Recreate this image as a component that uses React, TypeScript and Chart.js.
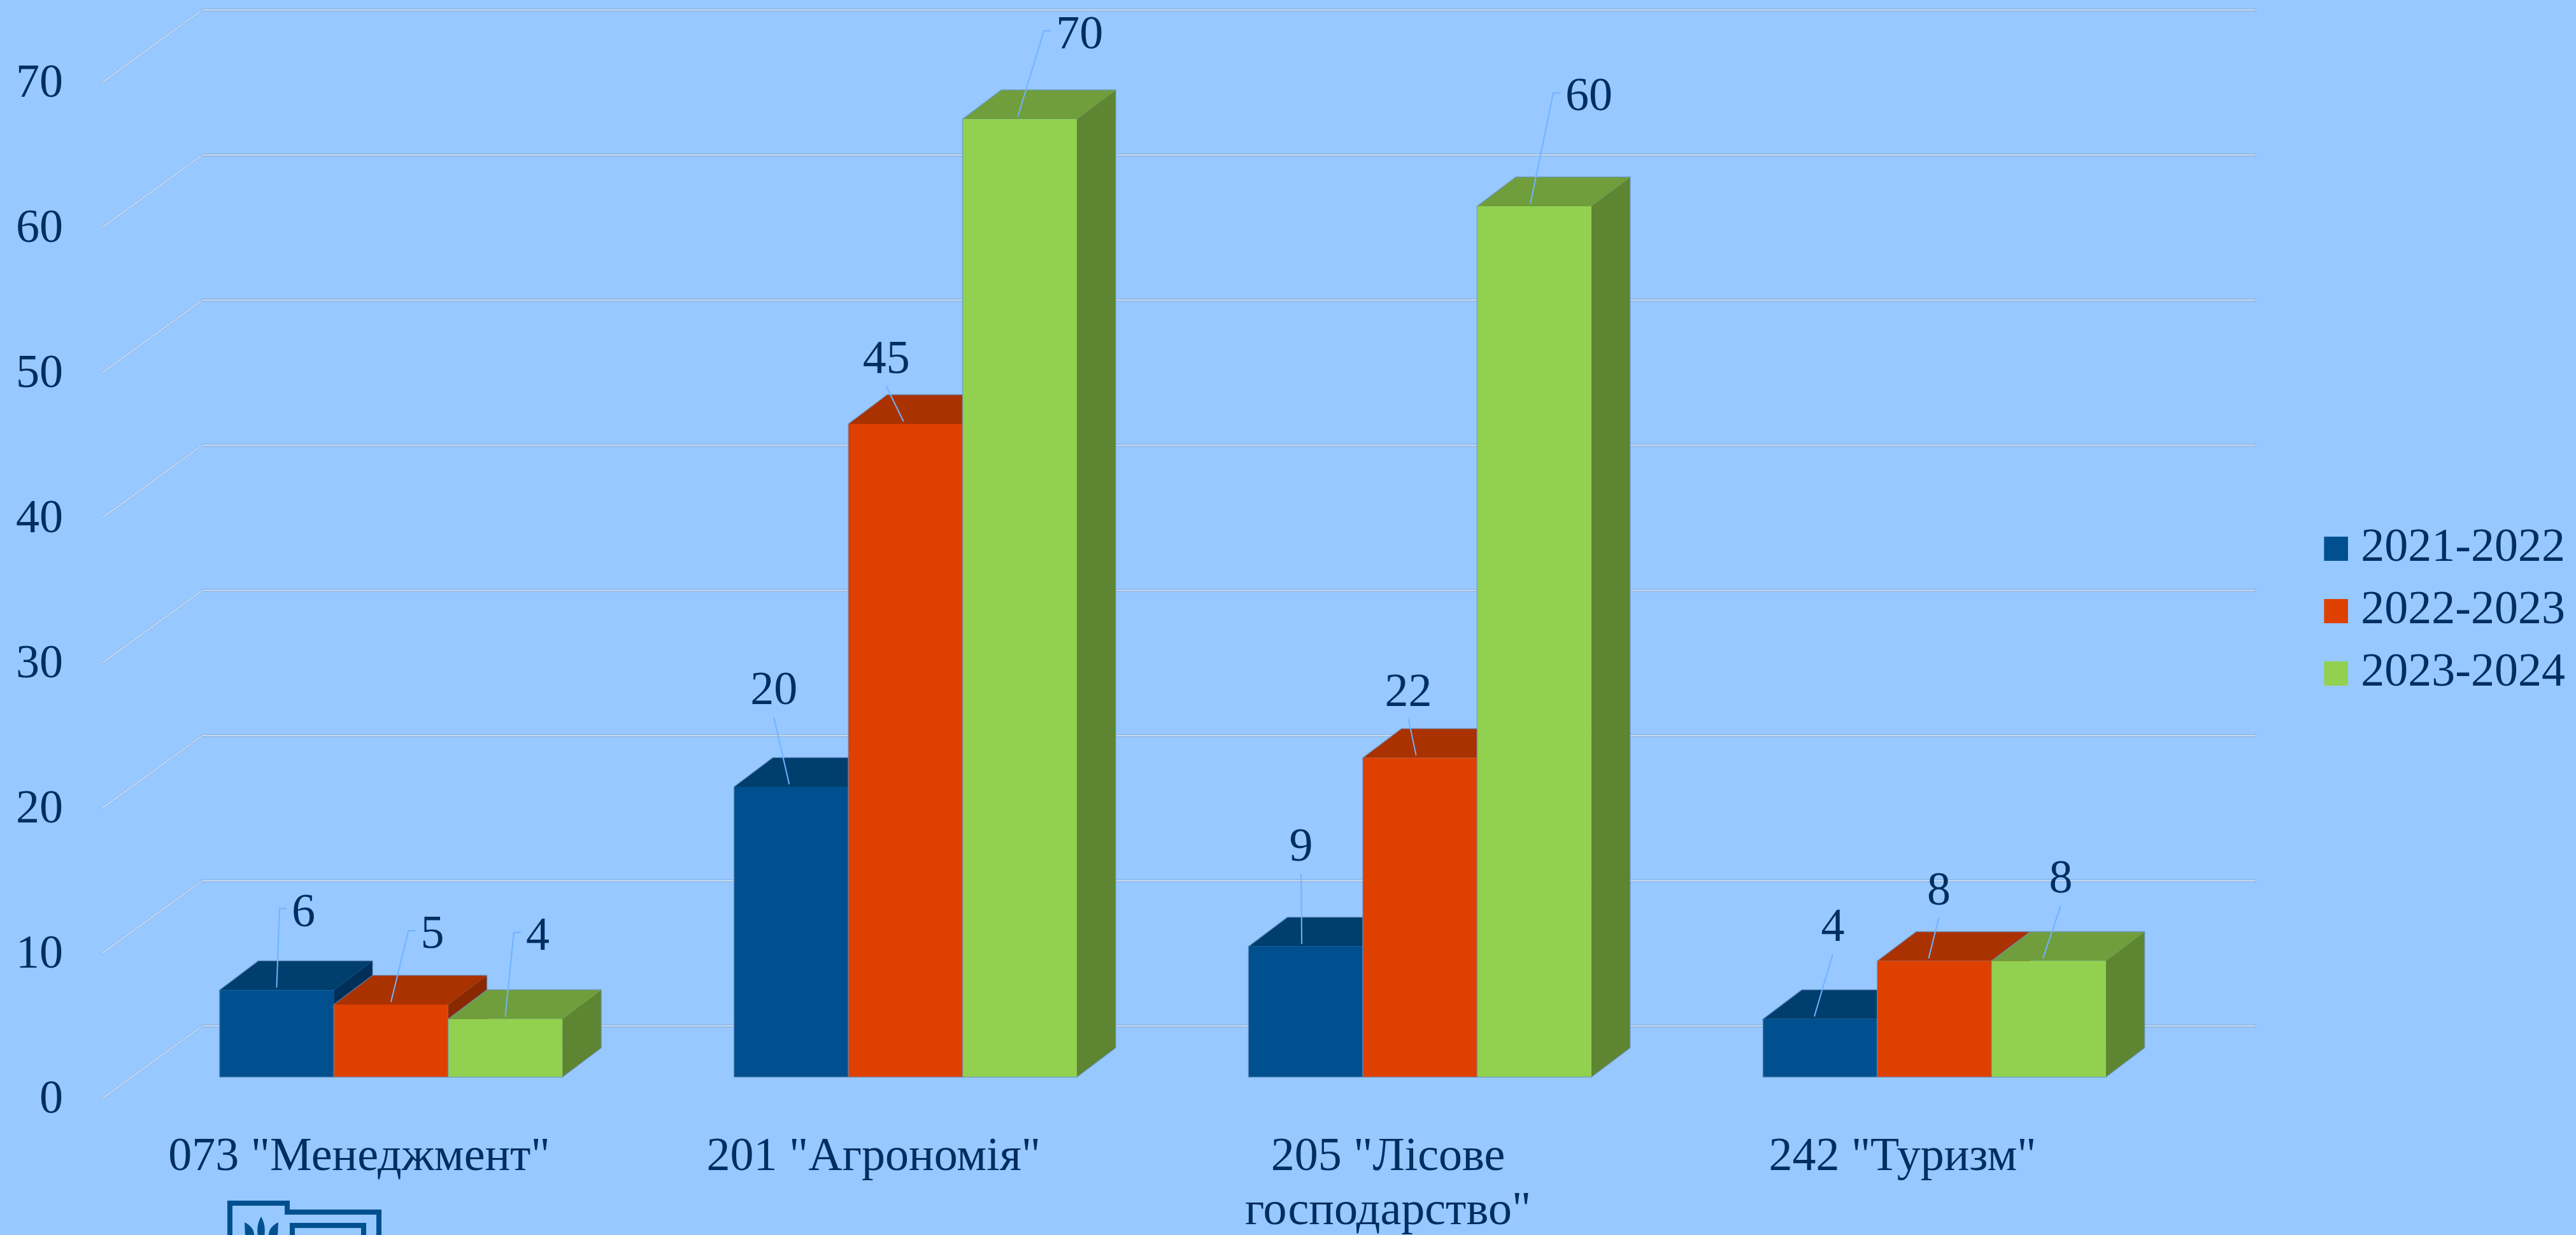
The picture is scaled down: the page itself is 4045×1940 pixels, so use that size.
import React, { useEffect, useRef } from "react";
import { Chart, registerables } from "chart.js";

Chart.register(...registerables);

// ---- data ----
const categories = [
  '073 "Менеджмент"',
  '201 "Агрономія"',
  ['205 "Лісове', 'господарство"'],
  '242 "Туризм"',
];
const seasons = ["2021-2022", "2022-2023", "2023-2024"];
const barHeights2021 = [6, 20, 9, 4];
const barHeights2022 = [5, 45, 22, 8];
const barHeights2023 = [4, 66, 60, 8]; // the 70 column is drawn only about 66 tall
const printedLabels2021 = ["6", "20", "9", "4"];
const printedLabels2022 = ["5", "45", "22", "8"];
const printedLabels2023 = ["4", "70", "60", "8"];
const yTickValues = [0, 10, 20, 30, 40, 50, 60, 70];

// ---- styles ----
const BG = "#97c8ff";
const INK = "#002e60";
const FONT = "Liberation Serif";
const FONT_PX = 74;
const FRONT = ["#00508f", "#de4000", "#91d14f"];
const TOP = ["#003e6e", "#a93200", "#709e3c"];
const SIDE = ["#002f5a", "#8a2900", "#5e8531"];
const LEADER = "#6fb3ff";
const EDGE = "rgba(105,145,195,0.7)";
const DEPTH_X = 61;
const DEPTH_Y = 46;
const WALL_BACK = { x: 318, dy: -80.6 };
const WALL_FRONT = { x: 161, dy: 33 };
const WALL_RIGHT = 3541;
const LEGEND_SHIFT = -58;
const TEXT_DROP = 5;
// label offset from the top centre of each column, one row per season
const labelShiftX = [[42, -27, -7, 20], [65, -30, -18, 7], [51, 94, 86, 19]];
const labelShiftY = [[-125, -154, -159, -147], [-113, -104, -106, -113], [-133, -136, -175, -132]];

const printedLabels = [printedLabels2021, printedLabels2022, printedLabels2023];

function poly(ctx: CanvasRenderingContext2D, pts: number[][], fill: string) {
  ctx.beginPath();
  pts.forEach((p, i) => (i ? ctx.lineTo(p[0], p[1]) : ctx.moveTo(p[0], p[1])));
  ctx.closePath();
  ctx.fillStyle = fill;
  ctx.fill();
}

function wallLine(ctx: CanvasRenderingContext2D, x0: number, y0: number, x1: number, y1: number, wide: number, thin: number) {
  ctx.beginPath();
  ctx.moveTo(x0, y0);
  ctx.lineTo(x1, y1);
  ctx.strokeStyle = "rgba(130,170,220,0.85)";
  ctx.lineWidth = wide;
  ctx.stroke();
  ctx.strokeStyle = "#cfe0f2";
  ctx.lineWidth = thin;
  ctx.stroke();
}

const scene3d = {
  id: "scene3d",
  afterLayout(chart: any) {
    // legend sits slightly above the middle of the page, as in the picture
    const lg = chart.legend;
    lg.top += LEGEND_SHIFT;
    lg.bottom += LEGEND_SHIFT;
  },
  beforeDatasetsDraw(chart: any) {
    const { ctx, scales } = chart;
    const y = scales.y;
    ctx.save();
    ctx.lineCap = "round";
    ctx.lineJoin = "round";
    // gridlines: a wall on the left and the back wall
    yTickValues.forEach((v) => {
      const py = y.getPixelForValue(v);
      const fy = py + WALL_FRONT.dy;
      const by = py + WALL_BACK.dy;
      wallLine(ctx, WALL_FRONT.x, fy, WALL_BACK.x, by, 3, 1.6);
      wallLine(ctx, WALL_BACK.x, by, WALL_RIGHT, by, 4.5, 2);
    });
    // top and side faces of the columns, left to right
    categories.forEach((_c, i) => {
      seasons.forEach((_s, d) => {
        const el = chart.getDatasetMeta(d).data[i];
        const l = el.x - el.width / 2;
        const r = el.x + el.width / 2;
        poly(ctx, [[r, el.y], [r + DEPTH_X, el.y - DEPTH_Y], [r + DEPTH_X, el.base - DEPTH_Y], [r, el.base]], SIDE[d]);
        poly(ctx, [[l, el.y], [l + DEPTH_X, el.y - DEPTH_Y], [r + DEPTH_X, el.y - DEPTH_Y], [r, el.y]], TOP[d]);
        ctx.beginPath();
        ctx.moveTo(l, el.y);
        ctx.lineTo(l + DEPTH_X, el.y - DEPTH_Y);
        ctx.lineTo(r + DEPTH_X, el.y - DEPTH_Y);
        ctx.lineTo(r + DEPTH_X, el.base - DEPTH_Y);
        ctx.lineTo(r, el.base);
        ctx.strokeStyle = EDGE;
        ctx.lineWidth = 1.5;
        ctx.stroke();
      });
    });
    ctx.restore();
  },
  afterDatasetsDraw(chart: any) {
    const { ctx } = chart;
    ctx.save();
    // thin edges on the front faces
    categories.forEach((_c, i) => {
      seasons.forEach((_s, d) => {
        const el = chart.getDatasetMeta(d).data[i];
        const l = el.x - el.width / 2;
        const r = el.x + el.width / 2;
        ctx.beginPath();
        ctx.moveTo(l, el.y);
        ctx.lineTo(l, el.base);
        ctx.lineTo(r, el.base);
        ctx.strokeStyle = EDGE;
        ctx.lineWidth = 1.5;
        ctx.stroke();
      });
    });
    ctx.font = `${FONT_PX}px "${FONT}"`;
    ctx.textAlign = "center";
    ctx.textBaseline = "middle";
    categories.forEach((_c, i) => {
      seasons.forEach((_s, d) => {
        const el = chart.getDatasetMeta(d).data[i];
        const text = printedLabels[d][i];
        const lx = el.x + labelShiftX[d][i];
        const ly = el.y + labelShiftY[d][i];
        const sx = el.x - 3 * i;
        const sy = el.y - 4;
        ctx.beginPath();
        ctx.moveTo(sx, sy);
        if (labelShiftX[d][i] > 30) {
          const shelfEnd = lx - ctx.measureText(text).width / 2 - 8;
          ctx.lineTo(shelfEnd - 11, ly - 3);
          ctx.lineTo(shelfEnd, ly - 3);
        } else {
          ctx.lineTo(lx, ly + 45);
        }
        ctx.strokeStyle = LEADER;
        ctx.lineWidth = 2;
        ctx.stroke();
        ctx.fillStyle = INK;
        ctx.fillText(text, lx, ly + TEXT_DROP);
      });
    });
    ctx.restore();

    // emblem cropped by the bottom edge of the picture
    ctx.save();
    ctx.strokeStyle = FRONT[0];
    ctx.fillStyle = FRONT[0];
    ctx.lineWidth = 8;
    ctx.lineJoin = "miter";
    ctx.beginPath();
    ctx.moveTo(361, 1945);
    ctx.lineTo(361, 1890);
    ctx.lineTo(451, 1890);
    ctx.lineTo(451, 1904);
    ctx.lineTo(595, 1904);
    ctx.lineTo(595, 1945);
    ctx.stroke();
    ctx.beginPath();
    ctx.moveTo(459, 1945);
    ctx.lineTo(459, 1925);
    ctx.lineTo(571, 1925);
    ctx.lineTo(571, 1945);
    ctx.stroke();
    ctx.beginPath();
    ctx.moveTo(410, 1911);
    ctx.quadraticCurveTo(418, 1925, 415, 1942);
    ctx.lineTo(405, 1942);
    ctx.quadraticCurveTo(402, 1925, 410, 1911);
    ctx.fill();
    ctx.beginPath();
    ctx.moveTo(384, 1920);
    ctx.quadraticCurveTo(400, 1928, 399, 1942);
    ctx.lineTo(385, 1942);
    ctx.closePath();
    ctx.fill();
    ctx.beginPath();
    ctx.moveTo(437, 1920);
    ctx.quadraticCurveTo(421, 1928, 422, 1942);
    ctx.lineTo(436, 1942);
    ctx.closePath();
    ctx.fill();
    ctx.restore();
  },
};

function swatch(color: string) {
  const c = document.createElement("canvas");
  c.width = 55;
  c.height = 38;
  const g = c.getContext("2d")!;
  g.fillStyle = color;
  g.fillRect(17, 0, 38, 38);
  return c;
}

export default function App() {
  const ref = useRef<HTMLCanvasElement>(null);

  useEffect(() => {
    document.body.style.margin = "0";
    document.body.style.background = BG;
    const series = [barHeights2021, barHeights2022, barHeights2023];
    const chart = new Chart(ref.current!, {
      type: "bar",
      data: {
        labels: categories as any,
        datasets: seasons.map((s, d) => ({
          label: s,
          data: series[d],
          backgroundColor: FRONT[d],
          borderWidth: 0,
          barPercentage: 1,
          categoryPercentage: 0.6665,
          yAxisID: "y",
        })),
      },
      options: {
        animation: false,
        responsive: false,
        devicePixelRatio: 1,
        layout: { padding: { top: 96, right: 7, bottom: 0, left: 0 } },
        plugins: {
          tooltip: { enabled: false },
          legend: {
            position: "right",
            align: "center",
            labels: {
              boxWidth: 38,
              boxHeight: 38,
              padding: 24,
              usePointStyle: true,
              pointStyleWidth: 21,
              color: INK,
              font: { family: FONT, size: FONT_PX, lineHeight: 1.2 },
              generateLabels: () =>
                seasons.map((s, d) => ({
                  text: s,
                  datasetIndex: d,
                  fillStyle: FRONT[d],
                  strokeStyle: FRONT[d],
                  lineWidth: 0,
                  hidden: false,
                  fontColor: INK,
                  pointStyle: swatch(FRONT[d]) as any,
                })),
            },
          },
        },
        scales: {
          x: {
            type: "category",
            grid: { display: false, drawTicks: false },
            border: { display: false },
            afterFit: (s: any) => {
              s.height = 248;
            },
            ticks: {
              autoSkip: false,
              maxRotation: 0,
              minRotation: 0,
              padding: 84,
              labelOffset: -50,
              color: INK,
              font: { family: FONT, size: FONT_PX, lineHeight: 1.15 },
            },
          },
          y: {
            type: "linear",
            position: "left",
            min: 0,
            max: 70,
            grid: { display: false, drawTicks: false },
            border: { display: false },
            afterFit: (s: any) => {
              s.width = 210;
              s.paddingTop = 0;
              s.paddingBottom = 0;
            },
            ticks: {
              stepSize: 10,
              padding: 111,
              color: INK,
              font: { family: FONT, size: FONT_PX, lineHeight: 1 },
              callback: (v: any) => ["", String(v)],
            },
          },
          legendGap: {
            type: "linear",
            position: "right",
            display: true,
            grid: { display: false, drawTicks: false },
            border: { display: false },
            ticks: { display: false },
            afterFit: (s: any) => {
              s.width = 184;
            },
          },
        },
      } as any,
      plugins: [scene3d],
    });
    return () => chart.destroy();
  }, []);

  return (
    <div style={{ width: 4045, height: 1940, background: BG, overflow: "hidden" }}>
      <canvas ref={ref} width={4045} height={1940} style={{ display: "block" }} />
    </div>
  );
}
